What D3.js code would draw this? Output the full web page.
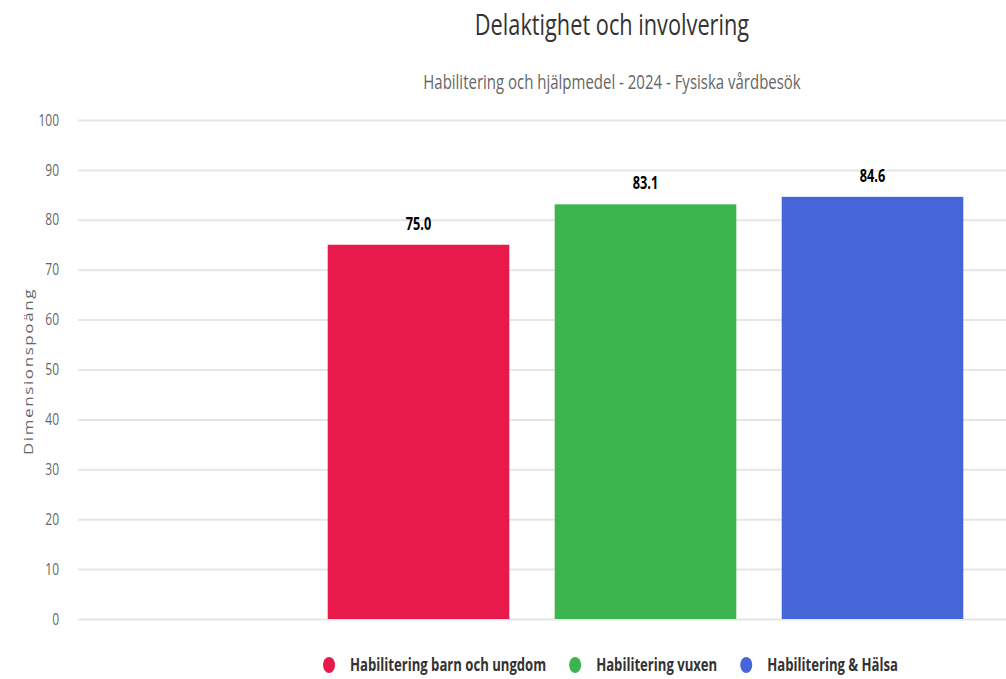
<!DOCTYPE html>
<html>
<head>
<meta charset="utf-8">
<script src="https://cdn.jsdelivr.net/npm/d3@7"></script>
<style>
  body { margin: 0; background: #fff; }
  svg { display: block; }
</style>
</head>
<body>
<div id="chart"></div>
<script>
// Chart data
var seriesNames = ["Habilitering barn och ungdom", "Habilitering vuxen", "Habilitering & Hälsa"];
var seriesValues = [75.0, 83.1, 84.6];
var seriesColors = ["#e8194b", "#3db54e", "#4466d9"];
var slots = ["", "Habilitering barn och ungdom", "Habilitering vuxen", "Habilitering & Hälsa"];
var yTicks = [0, 10, 20, 30, 40, 50, 60, 70, 80, 90, 100];
var titleText = "Delaktighet och involvering";
var subtitleText = "Habilitering och hjälpmedel - 2024 - Fysiska vårdbesök";
var yLabel = "Dimensionspoäng";

// The picture is squeezed horizontally, so draw on a wider canvas and squash it
var squeeze = 0.75;
var outW = 1006, outH = 679;
var W = outW / squeeze, H = outH;
var font = "'Open Sans', 'Noto Sans', sans-serif";

var svg = d3.select("#chart")
    .append("svg")
        .attr("width", outW)
        .attr("height", outH)
        .attr("viewBox", "0 0 " + W + " " + H)
        .attr("preserveAspectRatio", "none")
        .style("font-family", font);

var plotLeft = 78 / squeeze, plotRight = 986 / squeeze, gridRight = W;
var plotTop = 120, plotBottom = 619;
var centerX = 612 / squeeze;

var x = d3.scaleBand()
    .domain(slots)
    .range([plotLeft, plotRight])
    .paddingInner(0.2)
    .paddingOuter(0.1);

var y = d3.scaleLinear()
    .domain([0, 100])
    .range([plotBottom, plotTop]);

// Gridlines and tick labels
var yAxis = svg.append("g")
    .attr("transform", "translate(" + plotLeft + ",0)")
    .call(d3.axisLeft(y).tickValues(yTicks).tickSize(-(gridRight - plotLeft)).tickPadding(16 / squeeze + 4));
yAxis.select(".domain").remove();
yAxis.selectAll(".tick line").attr("stroke", "#e6e6e6").attr("stroke-width", 2);
yAxis.selectAll(".tick text")
    .attr("fill", "#666")
    .style("font-size", "16px")
    .style("font-family", font);

// Bars
var bars = seriesNames.map((name, i) => ({name: name, value: seriesValues[i], color: seriesColors[i]}));

svg.append("g")
    .selectAll("rect")
    .data(bars)
    .enter().append("rect")
    .attr("x", d => x(d.name))
    .attr("y", d => y(d.value))
    .attr("width", x.bandwidth())
    .attr("height", d => y(0) - y(d.value))
    .attr("fill", d => d.color);

// Value labels
svg.append("g")
    .selectAll("text")
    .data(bars)
    .enter().append("text")
    .attr("x", d => x(d.name) + x.bandwidth() / 2)
    .attr("y", d => y(d.value) - 15)
    .attr("text-anchor", "middle")
    .style("font-size", "17px")
    .style("font-weight", "bold")
    .attr("fill", "#000")
    .text(d => d.value.toFixed(1));

// Title and subtitle
svg.append("text")
    .attr("x", centerX)
    .attr("y", 35)
    .attr("text-anchor", "middle")
    .style("font-size", "29px")
    .attr("fill", "#333")
    .text(titleText);

svg.append("text")
    .attr("x", centerX)
    .attr("y", 89)
    .attr("text-anchor", "middle")
    .style("font-size", "20px")
    .attr("fill", "#666")
    .text(subtitleText);

// Y axis label
svg.append("text")
    .attr("transform", "translate(" + (33 / squeeze) + "," + ((plotTop + plotBottom) / 2 + 2) + ") rotate(-90)")
    .attr("text-anchor", "middle")
    .style("font-size", "17px")
    .style("letter-spacing", "1.6px")
    .attr("fill", "#666")
    .text(yLabel);

// Legend
var legend = svg.append("g");
var legendY = 665;
var r = 8;
var items = legend.selectAll("g")
    .data(bars)
    .enter().append("g");

items.append("ellipse")
    .attr("rx", r)
    .attr("ry", r)
    .attr("cy", legendY)
    .attr("fill", d => d.color);

items.append("text")
    .attr("y", legendY + 6)
    .style("font-size", "17.5px")
    .style("font-weight", "bold")
    .attr("fill", "#333")
    .text(d => d.name);

// circle centre to text start, text end to next circle centre
var textGap = 21 / squeeze, itemGap = 29 / squeeze;
var widths = [];
items.select("text").each(function() { widths.push(this.getComputedTextLength()); });
var total = r + d3.sum(widths) + widths.length * textGap + (widths.length - 1) * itemGap;
var cursor = (610.5 / squeeze) - total / 2 + r;
items.each(function(d, i) {
    var g = d3.select(this);
    g.select("ellipse").attr("cx", cursor);
    g.select("text").attr("x", cursor + textGap);
    cursor += textGap + widths[i] + itemGap;
});
</script>
</body>
</html>
